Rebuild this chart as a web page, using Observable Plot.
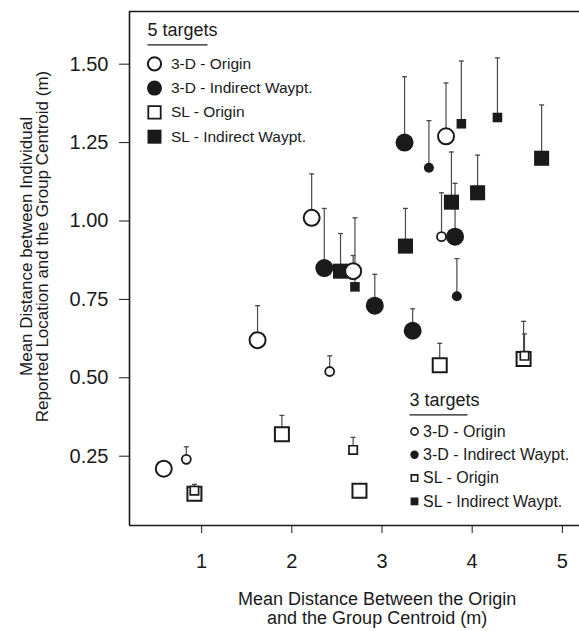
<!DOCTYPE html>
<html>
<head>
<meta charset="utf-8">
<script src="https://cdn.jsdelivr.net/npm/d3@7"></script>
<script src="https://cdn.jsdelivr.net/npm/@observablehq/plot@0.6"></script>
<style>
  html, body { margin: 0; padding: 0; background: white; }
</style>
</head>
<body>
<div id="chart"></div>
<script>
// ---- series labels ----
const seriesLabels = ["3-D - Origin", "3-D - Indirect Waypt.", "SL - Origin", "SL - Indirect Waypt."];
const groupLabels = ["5 targets", "3 targets"];
const xTicks = [1, 2, 3, 4, 5];
const yTicks = [0.25, 0.5, 0.75, 1.0, 1.25, 1.5];
const xTitleLines = ["Mean Distance Between the Origin", "and the Group Centroid (m)"];
const yTitle = "Mean Distance between Individual\nReported Location and the Group Centroid (m)";

// ---- 5 targets ----
const t5_3dOrigin_x   = [0.58, 1.62, 2.22, 2.68, 3.71];
const t5_3dOrigin_y   = [0.21, 0.62, 1.01, 0.84, 1.27];
const t5_3dOrigin_top = [null, 0.73, 1.15, 0.89, 1.44];

const t5_3dWay_x   = [2.36, 2.92, 3.34, 3.25, 3.81];
const t5_3dWay_y   = [0.85, 0.73, 0.65, 1.25, 0.95];
const t5_3dWay_top = [1.04, 0.83, 0.72, 1.46, 1.12];

const t5_slOrigin_x   = [0.92, 1.89, 2.75, 3.64, 4.57];
const t5_slOrigin_y   = [0.13, 0.32, 0.14, 0.54, 0.56];
const t5_slOrigin_top = [null, 0.38, null, 0.61, 0.68];

const t5_slWay_x   = [2.54, 3.26, 3.77, 4.06, 4.77];
const t5_slWay_y   = [0.84, 0.92, 1.06, 1.09, 1.20];
const t5_slWay_top = [0.96, 1.04, 1.22, 1.21, 1.37];

// ---- 3 targets ----
const t3_3dOrigin_x   = [0.83, 2.42, 3.66];
const t3_3dOrigin_y   = [0.24, 0.52, 0.95];
const t3_3dOrigin_top = [0.28, 0.57, 1.09];

const t3_3dWay_x   = [3.52, 3.83];
const t3_3dWay_y   = [1.17, 0.76];
const t3_3dWay_top = [1.32, 0.88];

const t3_slOrigin_x   = [0.92, 2.68, 4.58];
const t3_slOrigin_y   = [0.14, 0.27, 0.57];
const t3_slOrigin_top = [0.16, 0.31, 0.64];

const t3_slWay_x   = [2.70, 3.88, 4.28];
const t3_slWay_y   = [0.79, 1.31, 1.33];
const t3_slWay_top = [1.01, 1.51, 1.52];

function rows(group, series, xs, ys, tops) {
  return xs.map((x, i) => ({group, series, x, y: ys[i], top: tops[i]}));
}
const sets = [
  rows(groupLabels[0], seriesLabels[0], t5_3dOrigin_x, t5_3dOrigin_y, t5_3dOrigin_top),
  rows(groupLabels[0], seriesLabels[1], t5_3dWay_x, t5_3dWay_y, t5_3dWay_top),
  rows(groupLabels[0], seriesLabels[2], t5_slOrigin_x, t5_slOrigin_y, t5_slOrigin_top),
  rows(groupLabels[0], seriesLabels[3], t5_slWay_x, t5_slWay_y, t5_slWay_top),
  rows(groupLabels[1], seriesLabels[0], t3_3dOrigin_x, t3_3dOrigin_y, t3_3dOrigin_top),
  rows(groupLabels[1], seriesLabels[1], t3_3dWay_x, t3_3dWay_y, t3_3dWay_top),
  rows(groupLabels[1], seriesLabels[2], t3_slOrigin_x, t3_slOrigin_y, t3_slOrigin_top),
  rows(groupLabels[1], seriesLabels[3], t3_slWay_x, t3_slWay_y, t3_slWay_top)
];
const all = sets.flat();
const withErr = all.filter(d => d.top != null);

const ink = "#1a1a1a";
const errInk = "#4a4a4a";
const hline = (w) => ({draw(ctx) { ctx.moveTo(-w / 2, 0); ctx.lineTo(w / 2, 0); }});

const styleBig = [
  {symbol: "circle", r: 8, fill: "white", stroke: ink, strokeWidth: 2},
  {symbol: "circle", r: 9, fill: ink, stroke: "none", strokeWidth: 0},
  {symbol: "square", r: 7.9, fill: "white", stroke: ink, strokeWidth: 2},
  {symbol: "square", r: 8.5, fill: ink, stroke: "none", strokeWidth: 0}
];
const styleSmall = [
  {symbol: "circle", r: 4.5, fill: "white", stroke: ink, strokeWidth: 1.8},
  {symbol: "circle", r: 5, fill: ink, stroke: "none", strokeWidth: 0},
  {symbol: "square", r: 4.7, fill: "white", stroke: ink, strokeWidth: 1.7},
  {symbol: "square", r: 5.4, fill: ink, stroke: "none", strokeWidth: 0}
];
const legBig = [
  {symbol: "circle", r: 6.6, fill: "white", stroke: ink, strokeWidth: 2},
  {symbol: "circle", r: 7.5, fill: ink, stroke: "none", strokeWidth: 0},
  {symbol: "square", r: 7.0, fill: "white", stroke: ink, strokeWidth: 1.8},
  {symbol: "square", r: 7.9, fill: ink, stroke: "none", strokeWidth: 0}
];
const legSmall = [
  {symbol: "circle", r: 3.6, fill: "white", stroke: ink, strokeWidth: 1.6},
  {symbol: "circle", r: 4.2, fill: ink, stroke: "none", strokeWidth: 0},
  {symbol: "square", r: 3.6, fill: "white", stroke: ink, strokeWidth: 1.6},
  {symbol: "square", r: 4.4, fill: ink, stroke: "none", strokeWidth: 0}
];

const marks = [];
const xDomain = [0.2, 5.19];
const yDomain = [0.029, 1.668];
marks.push(Plot.ruleY([yDomain[1]], {stroke: ink, strokeWidth: 1.6}));
marks.push(Plot.ruleY([yDomain[0]], {stroke: ink, strokeWidth: 1.6}));
marks.push(Plot.ruleX([xDomain[0]], {stroke: ink, strokeWidth: 1.6}));

// error bars
marks.push(Plot.ruleX(withErr, {x: "x", y1: "y", y2: "top", stroke: errInk, strokeWidth: 1.2}));
marks.push(Plot.dot(withErr, {x: "x", y: "top", symbol: hline(5), fill: "none", stroke: errInk, strokeWidth: 1.3}));

// points: big first, then small
const order = [3, 1, 2, 0];
order.forEach(i => {
  const s = styleBig[i];
  marks.push(Plot.dot(sets[i], {x: "x", y: "y", symbol: s.symbol, r: s.r, fill: s.fill, stroke: s.stroke, strokeWidth: s.strokeWidth}));
});
order.forEach(i => {
  const s = styleSmall[i];
  marks.push(Plot.dot(sets[4 + i], {x: "x", y: "y", symbol: s.symbol, r: s.r, fill: s.fill, stroke: s.stroke, strokeWidth: s.strokeWidth}));
});

// legends (positioned relative to the frame's top-left corner)
function legend(title, styles, o) {
  marks.push(Plot.text([title], {frameAnchor: "top-left", text: d => d, dx: o.titleX, dy: o.titleY,
    textAnchor: "start", lineAnchor: "middle", fontSize: o.titleSize, fill: ink}));
  marks.push(Plot.dot([0], {frameAnchor: "top-left", dx: o.ulX, dy: o.ulY, symbol: hline(o.ulW), fill: "none", stroke: ink, strokeWidth: 1.2}));
  seriesLabels.forEach((lab, i) => {
    const s = styles[i];
    const dy = o.rowY + i * o.rowStep;
    marks.push(Plot.dot([lab], {frameAnchor: "top-left", dx: o.symX, dy, symbol: s.symbol, r: s.r, fill: s.fill, stroke: s.stroke, strokeWidth: s.strokeWidth}));
    marks.push(Plot.text([lab], {frameAnchor: "top-left", text: d => d, dx: o.textX, dy,
      textAnchor: "start", lineAnchor: "middle", fontSize: o.size, fill: ink}));
  });
}
legend(groupLabels[0], legBig, {titleX: 18, titleY: 18.5, titleSize: 18, ulX: 48, ulY: 33.3, ulW: 60,
  symX: 25, textX: 41.5, rowY: 52.3, rowStep: 24.3, size: 15.5});
legend(groupLabels[1], legSmall, {titleX: 280, titleY: 389, titleSize: 18, ulX: 309, ulY: 403.3, ulW: 58,
  symX: 285, textX: 293.5, rowY: 420, rowStep: 23.3, size: 16});

// axis titles (x title as two separate lines)
xTitleLines.forEach((line, i) => {
  marks.push(Plot.text([line], {frameAnchor: "bottom", text: d => d, dx: 22.6, dy: 74 + i * 19,
    textAnchor: "middle", lineAnchor: "middle", fontSize: 18, fill: ink}));
});
marks.push(Plot.text([yTitle], {frameAnchor: "left", text: d => d, dx: -95, dy: -22, rotate: -90,
  textAnchor: "middle", lineAnchor: "middle", lineHeight: 0.98, fontSize: 17, fill: ink}));

const chart = Plot.plot({
  width: 579,
  height: 631,
  marginLeft: 129,
  marginRight: 0,
  marginTop: 11,
  marginBottom: 106,
  style: {fontFamily: "'Liberation Sans', Arial, sans-serif", fontSize: "20px", color: ink, background: "white"},
  x: {domain: xDomain, ticks: xTicks, tickFormat: "d", tickSize: 8, tickPadding: 20, label: null},
  y: {domain: yDomain, ticks: yTicks, tickFormat: ".2f", tickSize: 10, tickPadding: 11, label: null},
  marks
});
document.getElementById("chart").appendChild(chart);
</script>
</body>
</html>
